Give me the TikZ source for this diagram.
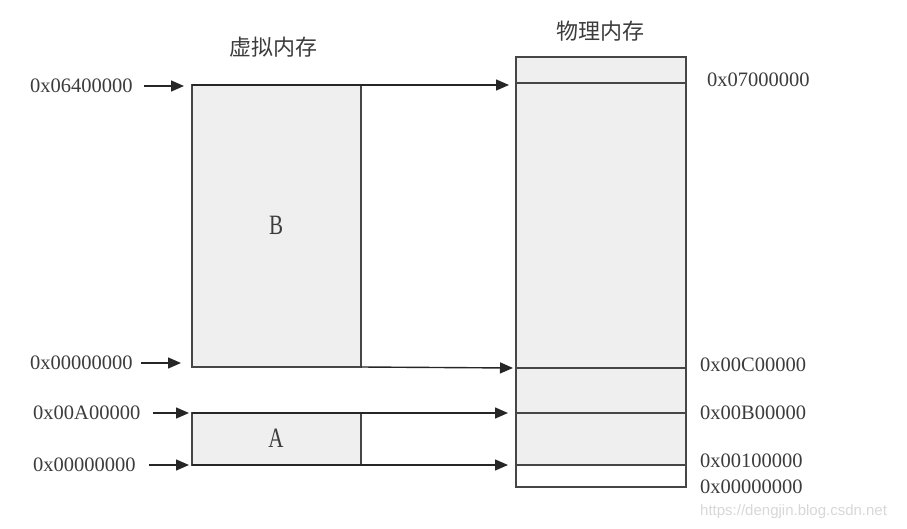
\documentclass[tikz,border=0pt]{standalone}
\usepackage{fontspec}
\setmainfont{Liberation Serif}
\newfontfamily\cjkfont{Noto Sans CJK SC}
\newfontfamily\wmfont{Liberation Sans}
\usetikzlibrary{arrows.meta}
\definecolor{linec}{RGB}{70,70,70}
\definecolor{boxfill}{RGB}{239,239,239}
\definecolor{textc}{RGB}{60,60,60}
\definecolor{wmc}{RGB}{215,215,215}
\tikzset{
  membox/.style={draw=linec, fill=boxfill, line width=1.5pt, inner sep=0pt, outer sep=0pt},
  addr/.style={font=\fontsize{20.5}{24}\selectfont, text=textc, inner sep=0pt, anchor=west},
  title/.style={font=\cjkfont\fontsize{22}{26}\selectfont, text=textc, inner sep=0pt},
  letter/.style={font=\fontsize{28}{30}\selectfont, text=textc, inner sep=0pt},
  arr/.style={draw=black!85, line width=1.4pt, -{Triangle[length=13pt,width=11pt]}},
  sep/.style={draw=linec, line width=1.5pt}
}
\begin{document}
\begin{tikzpicture}[x=1pt,y=-1pt]
\useasboundingbox (0,0) rectangle (907,529);
% physical memory
\fill[boxfill] (516,57) rectangle (686,465);
\node[draw=linec, line width=1.5pt, inner sep=0pt, outer sep=0pt, minimum width=170pt, minimum height=430pt] (P) at (601,272) {};
\draw[sep] (P.west |- 0,83) -- (P.east |- 0,83);
\draw[sep] (P.west |- 0,368) -- (P.east |- 0,368);
\draw[sep] (P.west |- 0,413) -- (P.east |- 0,413);
\draw[sep] (P.west |- 0,465) -- (P.east |- 0,465);
% virtual memory
\node[membox, minimum width=169pt, minimum height=282pt] (B) at (276.5,226) {};
\node[membox, minimum width=169pt, minimum height=52pt] (A) at (276.5,439) {};
\node[letter] (lb) at (276,225) {\scalebox{0.75}[1]{B}};
\node[letter] (la) at (276,438) {\scalebox{0.75}[1]{A}};
% titles
\node[title] (tv) at (273,47) {虚拟内存};
\node[title] (tp) at (600,31) {物理内存};
% mapping arrows
\coordinate (p1) at (509,85);
\coordinate (p2) at (513,368);
\coordinate (p3) at (508,413);
\coordinate (p4) at (508,465);
\draw[arr] (B.north west) -- (p1);
\draw[arr] (B.south east) -- (p2);
\draw[arr] (A.north west) -- (p3);
\draw[arr] (A.south west) -- (p4);
% left labels
\node[addr] (L1) at (30,86) {0x06400000};
\node[addr] (L2) at (30,363) {0x00000000};
\node[addr] (L3) at (33,413) {0x00A00000};
\node[addr] (L4) at (33,465) {0x00000000};
\coordinate (v1) at (184,86);
\coordinate (v2) at (181,363);
\coordinate (v3) at (189,413);
\coordinate (v4) at (189,465);
\draw[arr] ([xshift=11pt]L1.east) -- (v1);
\draw[arr] ([xshift=8pt]L2.east) -- (v2);
\draw[arr] ([xshift=13pt]L3.east) -- (v3);
\draw[arr] ([xshift=13pt]L4.east) -- (v4);
% right labels
\node[addr] (R1) at (707,80) {0x07000000};
\node[addr] (R2) at (700,365) {0x00C00000};
\node[addr] (R3) at (700,413) {0x00B00000};
\node[addr] (R4) at (700,461) {0x00100000};
\node[addr] (R5) at (700,487) {0x00000000};
% watermark
\node[font=\wmfont\fontsize{15}{18}\selectfont, text=wmc, inner sep=0pt, anchor=west] (wm) at (700,512) {https://dengjin.blog.csdn.net};
\end{tikzpicture}
\end{document}
